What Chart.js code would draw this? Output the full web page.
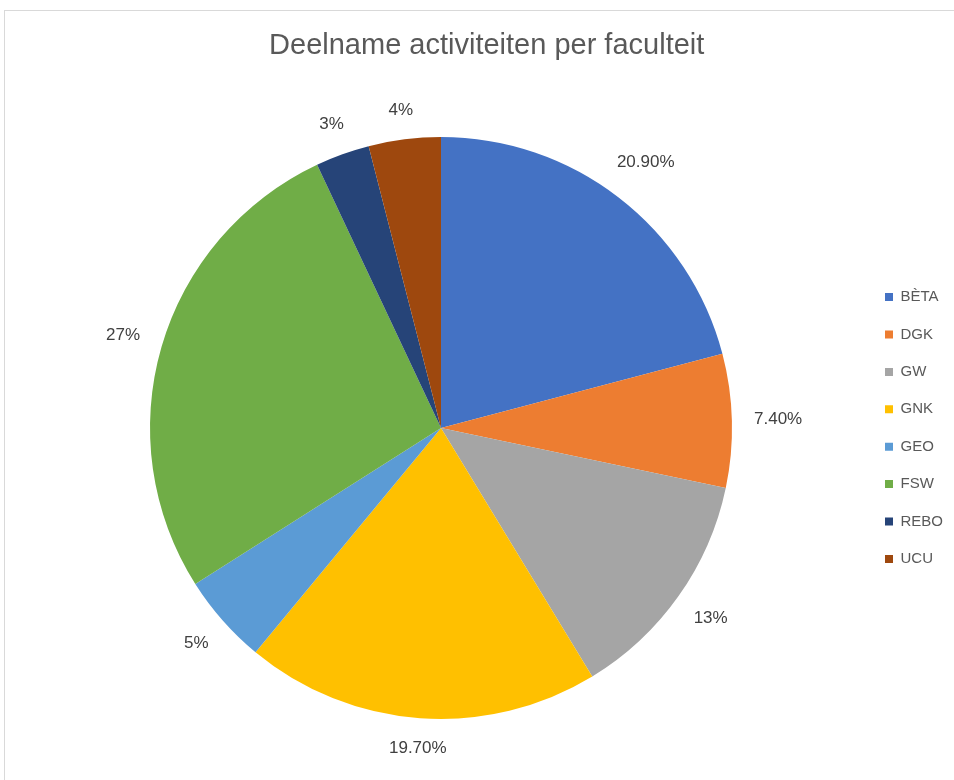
<!DOCTYPE html>
<html lang="nl">
<head>
  <meta charset="UTF-8" />
  <title>Deelname activiteiten per faculteit</title>
  <script src="https://cdn.jsdelivr.net/npm/chart.js"></script>
  <style>
    body {
      margin: 0;
      background: #fff;
      overflow: hidden;
    }
    #frame {
      position: absolute;
      left: 4px;
      top: 10px;
      width: 1000px;
      height: 900px;
      border-left: 1px solid #d9d9d9;
      border-top: 1px solid #d9d9d9;
    }
    canvas {
      position: absolute;
      left: 0;
      top: 0;
    }
  </style>
</head>
<body>
  <div id="frame"></div>
  <canvas id="pieChart" width="954" height="780"></canvas>

  <script>
    const faculties = ['BÈTA', 'DGK', 'GW', 'GNK', 'GEO', 'FSW', 'REBO', 'UCU'];
    const shares = [20.9, 7.4, 13, 19.7, 5, 27, 3, 4];
    const shareLabels = ['20.90%', '7.40%', '13%', '19.70%', '5%', '27%', '3%', '4%'];
    const sliceColors = ['#4472C4', '#ED7D31', '#A5A5A5', '#FFC000', '#5B9BD5', '#70AD47', '#264478', '#9E480E'];

    const textColor = '#595959';
    const fontFamily = '"Liberation Sans", Arial, sans-serif';

    // percentages outside the slices, like Excel's best fit
    const outsideLabels = {
      id: 'outsideLabels',
      afterDatasetsDraw(chart) {
        const ctx = chart.ctx;
        const arcs = chart.getDatasetMeta(0).data;
        ctx.save();
        ctx.font = '17px ' + fontFamily;
        ctx.fillStyle = '#404040';
        ctx.textAlign = 'center';
        ctx.textBaseline = 'middle';
        arcs.forEach((arc, i) => {
          const p = arc.getProps(['x', 'y', 'startAngle', 'endAngle', 'outerRadius'], true);
          const mid = (p.startAngle + p.endAngle) / 2;
          const w = ctx.measureText(shareLabels[i]).width;
          const c = Math.cos(mid), s = Math.sin(mid);
          const dist = p.outerRadius + 22 + Math.abs(c) * w / 2 + Math.abs(s) * 6;
          ctx.fillText(shareLabels[i], p.x + c * dist, p.y + s * dist);
        });
        ctx.restore();
      }
    };

    // fixed legend width, and legend centred on the pie instead of the whole canvas
    const legendPlace = {
      id: 'legendPlace',
      beforeInit(chart) {
        const fit = chart.legend.fit;
        chart.legend.fit = function () {
          fit.call(this);
          this.width = 91.4;
        };
      },
      afterLayout(chart) {
        chart.legend.top = chart.chartArea.top;
        chart.legend.bottom = chart.chartArea.bottom;
      }
    };

    new Chart(document.getElementById('pieChart'), {
      type: 'pie',
      data: {
        labels: faculties,
        datasets: [{
          data: shares,
          backgroundColor: sliceColors,
          borderWidth: 0
        }]
      },
      options: {
        responsive: false,
        animation: false,
        radius: 291,
        layout: {
          padding: { left: 19.4, right: 0, top: 0, bottom: 61 }
        },
        plugins: {
          title: {
            display: true,
            text: 'Deelname activiteiten per faculteit',
            color: textColor,
            font: { family: fontFamily, size: 29, weight: 'normal', lineHeight: 1.2 },
            padding: { top: 29, bottom: 73.2 }
          },
          legend: {
            position: 'right',
            align: 'center',
            labels: {
              color: textColor,
              font: { family: fontFamily, size: 15 },
              boxWidth: 8,
              boxHeight: 8,
              padding: 22.4
            }
          },
          tooltip: { enabled: false }
        }
      },
      plugins: [outsideLabels, legendPlace]
    });
  </script>
</body>
</html>
